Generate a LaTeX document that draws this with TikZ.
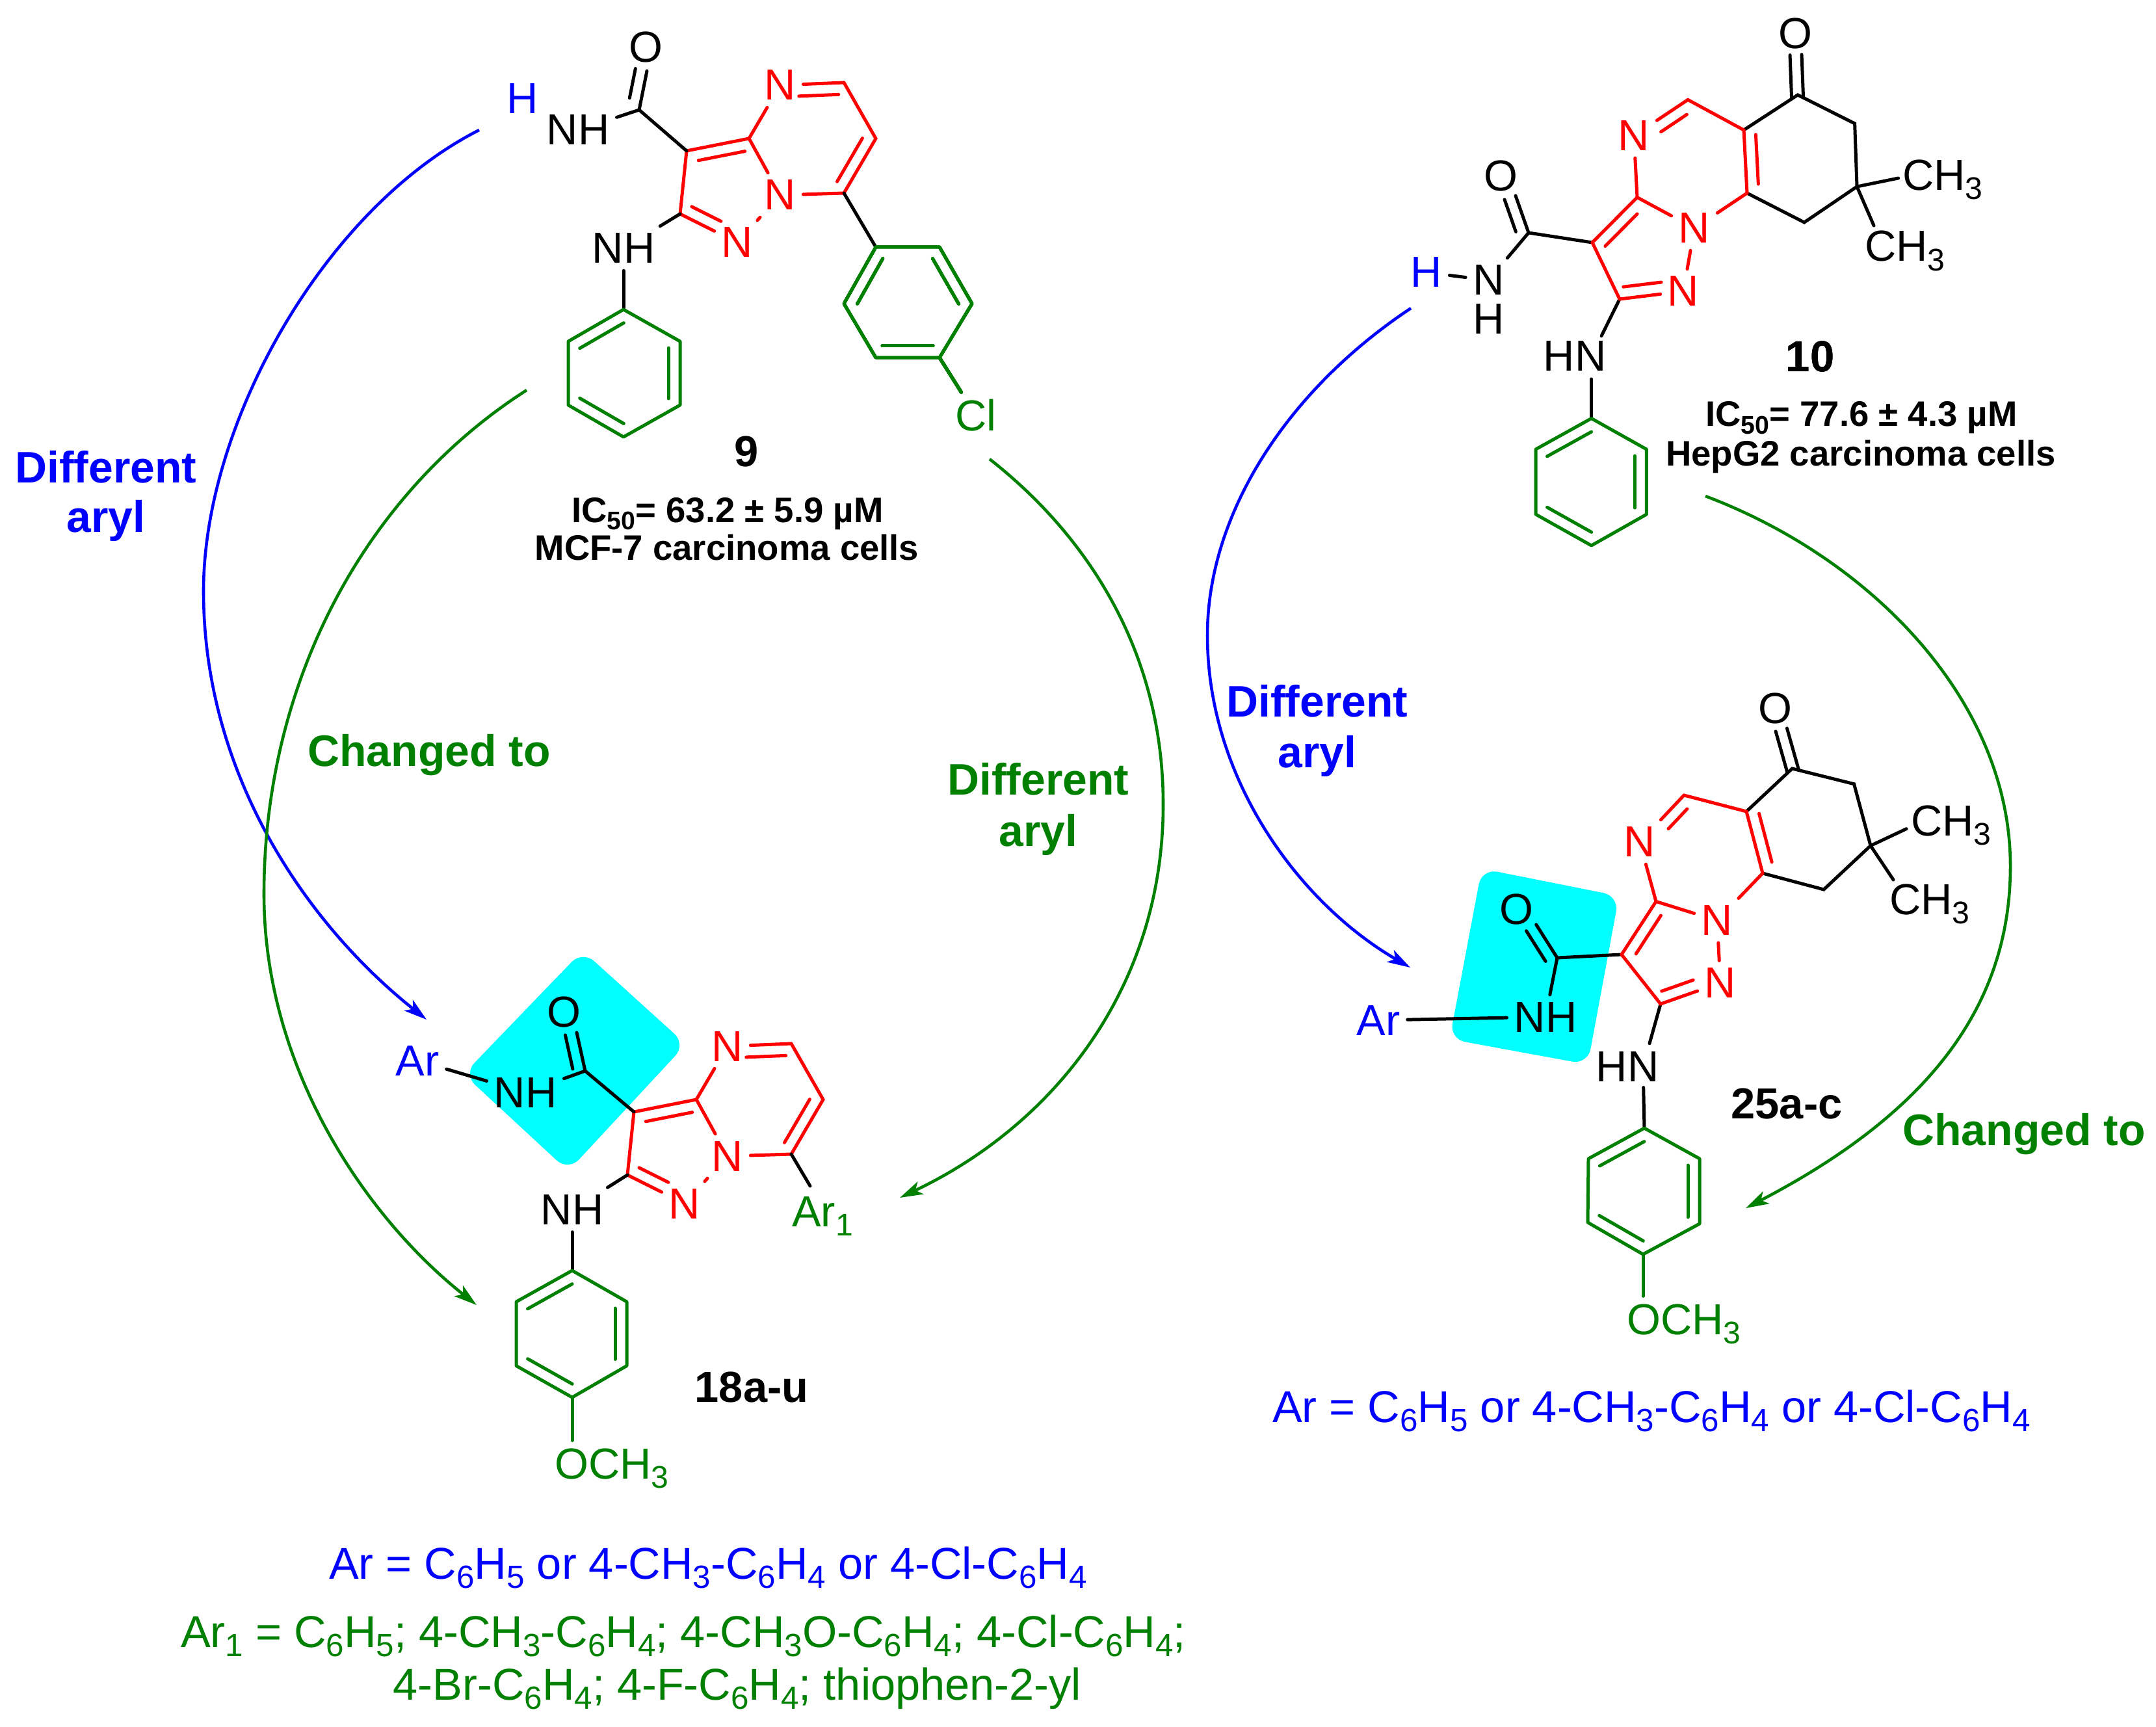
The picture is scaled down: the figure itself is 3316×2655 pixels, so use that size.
\documentclass[tikz,border=0pt]{standalone}
\usepackage{fontspec}
\setmainfont{Liberation Sans}
\usetikzlibrary{calc,arrows.meta}

\definecolor{labgreen}{RGB}{0,128,0}
\definecolor{boxcyan}{RGB}{0,255,255}

\tikzset{
  blackbond/.style={black,line width=1.42pt,line cap=round},
  redbond/.style={red,line width=1.42pt,line cap=round},
  greenbond/.style={labgreen,line width=1.42pt,line cap=round},
  atomk/.style={inner sep=3pt,text=black,font=\fontsize{19}{23}\selectfont},
  atomr/.style={atomk,text=red},
  atomg/.style={atomk,text=labgreen},
  atomb/.style={atomk,text=blue},
  boldk/.style={inner sep=0pt,anchor=base,text=black,font=\fontsize{19}{23}\bfseries\selectfont},
  boldg/.style={boldk,text=labgreen,font=\fontsize{19.3}{23}\bfseries\selectfont},
  boldb/.style={boldg,text=blue},
  assay/.style={boldk,font=\fontsize{15.5}{18}\bfseries\selectfont},
  formb/.style={inner sep=0pt,anchor=base,text=blue,font=\fontsize{19.5}{23}\selectfont},
  formg/.style={formb,text=labgreen},
  bluearc/.style={blue,line width=1.3pt,-{Stealth[length=10pt,width=6pt,inset=2.5pt]}},
  greenarc/.style={labgreen,line width=1.3pt,-{Stealth[length=10pt,width=6pt,inset=2.5pt]}},
  hilite/.style={fill=boxcyan,rounded corners=0.24cm}
}

% small index in formulas
\newcommand{\sbs}[1]{\raisebox{-.21em}{\scalebox{.72}{#1}}}

% second line of a double bond, beside a--b
\newcommand{\innerbond}[6][blackbond]{%
  \pgfmathsetmacro{\backangle}{-1*(#4)}
  \draw[#1,shorten <=#5,shorten >=#6]
    ($(#2.center)!0.18cm!#4:(#3.center)$) -- ($(#3.center)!0.18cm!\backangle:(#2.center)$);
}
\newcommand{\dblbond}[6][blackbond]{%
  \draw[#1] (#2) -- (#3);
  \innerbond[#1]{#2}{#3}{#4}{#5}{#6}
}
% ring points 1..6 run clockwise, double bonds at 1-2, 3-4, 5-6
\newcommand{\phring}[1]{%
  \draw[greenbond,line join=round] (#1 1) -- (#1 2) -- (#1 3) -- (#1 4) -- (#1 5) -- (#1 6) -- cycle;
  \foreach \a/\b in {1/2,3/4,5/6}
    \innerbond[greenbond]{#1 \a}{#1 \b}{-90}{0.1cm}{0.1cm}
}
% red core of 9 and 18a-u
\newcommand{\pyrimcore}[1]{%
  \coordinate (#1c3) at (1056,232);
  \coordinate (#1c3a) at (1152,213);
  \node[atomr] (#1n4) at (1200,131) {N};
  \coordinate (#1c5) at (1298,127);
  \coordinate (#1c6) at (1347,213);
  \coordinate (#1c7) at (1298,297);
  \node[atomr] (#1n8) at (1200,300) {N};
  \node[atomr] (#1n1) at (1134,373) {N};
  \coordinate (#1c2) at (1046,329);
  \dblbond[redbond]{#1c3}{#1c3a}{-90}{0.15cm}{0.1cm}
  \draw[redbond] (#1c3a) -- (#1n4);
  \dblbond[redbond]{#1n4}{#1c5}{-90}{0.28cm}{0.09cm}
  \draw[redbond] (#1c5) -- (#1c6);
  \dblbond[redbond]{#1c6}{#1c7}{-90}{0.1cm}{0.1cm}
  \draw[redbond] (#1c7) -- (#1n8);
  \draw[redbond] (#1c3a) -- (#1n8);
  \draw[redbond] (#1n8) -- (#1n1);
  \dblbond[redbond]{#1c2}{#1n1}{90}{0.11cm}{0.37cm}
  \draw[redbond] (#1c3) -- (#1c2);
}

\begin{document}
\begin{tikzpicture}[x=0.01cm,y=-0.01cm]
\useasboundingbox (0,0) rectangle (3316,2655);

% highlight boxes
\fill[hilite] (896,1462) -- (1055,1606) -- (874,1801) -- (713,1652) -- cycle;
\fill[hilite] (2279,1336) -- (2490,1378) -- (2442,1637) -- (2229.5,1598) -- cycle;

% compound 9
\pyrimcore{a}
\node[atomk] (ao) at (993,73) {O};
\coordinate (aoend) at (995,109);
\coordinate (acco) at (983,169);
\node[atomk] (anh) at (889,200) {NH};
\node[atomb] (ah) at (804,152) {H};
\node[atomk] (anh2) at (959,382) {NH};
\foreach \n/\x/\y in {1/874/525,2/959/476,3/1046/525,4/1046/623,5/959/672,6/874/623}
  \coordinate (ar \n) at (\x,\y);
\foreach \n/\x/\y in {1/1445/380,2/1495/467,3/1445/550,4/1347/550,5/1298/467,6/1347/380}
  \coordinate (as \n) at (\x,\y);
\node[atomg] (acl) at (1501,639) {Cl};
\dblbond{acco}{aoend}{90}{0.15cm}{0cm}
\draw[blackbond] (ac3) -- (acco);
\draw[blackbond] (acco) -- (anh);
\draw[blackbond] (ac2) -- (anh2);
\draw[blackbond] (anh2) -- (ar 2);
\draw[blackbond] (ac7) -- (as 6);
\phring{ar}
\phring{as}
\draw[greenbond] (as 3) -- (acl);
\node[boldk] (alab) at (1148,717) {9};
\node[assay] (aic) at (1119,803) {IC\sbs{50}= 63.2 ± 5.9 µM};
\node[assay] (acell) at (1118,861) {MCF-7 carcinoma cells};

% compound 10
\node[atomk] (bo) at (2761,52) {O};
\coordinate (boend) at (2771,84);
\coordinate (bcoa) at (2773.5,149);
\coordinate (bcob) at (2765,146);
\coordinate (bch) at (2596,153.4);
\node[atomr] (bn4) at (2513,208.8) {N};
\coordinate (bc3a) at (2518,303.5);
\coordinate (bc3) at (2449,373);
\coordinate (bcco) at (2351,358);
\node[atomk] (boa) at (2308,271) {O};
\coordinate (boaend) at (2331,301);
\node[atomk] (bnh) at (2289.4,431) {N};
\node[atomk,inner sep=0pt] (bhh) at (2289.4,490.5) {H};
\node[atomb] (bh) at (2194,419) {H};
\node[atomr] (bn8) at (2606,351) {N};
\node[atomr] (bn1) at (2589,448) {N};
\coordinate (bc2) at (2491,460);
\node[atomk] (bhn) at (2422,548) {HN};
\coordinate (bhnn) at (2447.6,548);
\coordinate (bc6) at (2682,200);
\coordinate (bc7) at (2687,297);
\coordinate (bc8) at (2775,342);
\coordinate (bc9) at (2856,287);
\coordinate (bc10) at (2852.6,190);
\coordinate (bmea) at (2919.6,274);
\coordinate (bmeb) at (2882,347);
\node[atomk,anchor=base west] (bch3a) at (2915,292.5) {CH\sbs{3}};
\node[atomk,anchor=base west] (bch3b) at (2857,402) {CH\sbs{3}};
\foreach \n/\x/\y in {1/2362/691,2/2447.6/643.5,3/2532.4/691,4/2532.4/791,5/2447.6/839,6/2362/791}
  \coordinate (br \n) at (\x,\y);
\draw[blackbond] (bc6) -- (bcob) -- (bc10) -- (bc9) -- (bc8) -- (bc7);
\dblbond{bcoa}{boend}{90}{0cm}{0cm}
\draw[blackbond] (bc9) -- (bmea);
\draw[blackbond] (bc9) -- (bmeb);
\dblbond{bcco}{boaend}{90}{0.08cm}{0cm}
\draw[blackbond] (bc3) -- (bcco);
\draw[blackbond] (bcco) -- (bnh);
\draw[blackbond] (bh) -- (bnh);
\draw[blackbond,shorten >=0.35cm] (bc2) -- (bhnn);
\draw[blackbond,shorten <=0.35cm] (bhnn) -- (br 2);
\dblbond[redbond]{bn4}{bch}{-90}{0.38cm}{0.14cm}
\draw[redbond] (bch) -- (bc6);
\dblbond[redbond]{bc6}{bc7}{90}{0.08cm}{0.13cm}
\draw[redbond] (bn4) -- (bc3a);
\dblbond[redbond]{bc3a}{bc3}{90}{0.18cm}{0.1cm}
\draw[redbond] (bc3a) -- (bn8);
\draw[redbond] (bc7) -- (bn8);
\draw[redbond] (bn8) -- (bn1);
\draw[redbond] (bc3) -- (bc2);
\dblbond[redbond]{bc2}{bn1}{90}{0.08cm}{0.32cm}
\phring{br}
\node[boldk] (blab) at (2784,572) {10};
\node[assay] (bic) at (2863,656) {IC\sbs{50}= 77.6 ± 4.3 µM};
\node[assay] (bcell) at (2862,716) {HepG2 carcinoma cells};

% compound 18a-u
\begin{scope}[shift={(-81,1478)}]
\pyrimcore{c}
\end{scope}
\node[atomk] (co) at (867,1556) {O};
\coordinate (coend) at (887,1588);
\coordinate (ccco) at (900,1647);
\node[atomk] (cnh) at (808,1680) {NH};
\node[atomb] (car) at (642,1631) {Ar};
\node[atomk] (cnh2) at (880,1860.5) {NH};
\coordinate (carend) at (1246,1824);
\node[atomg,anchor=base west] (car1) at (1207,1886) {Ar\sbs{1}};
\coordinate (coend2) at (880,2215);
\node[atomg,anchor=base west] (coch) at (842,2274) {OCH\sbs{3}};
\foreach \n/\x/\y in {1/794/2002,2/880/1954,3/964/2002,4/964/2100.5,5/880/2149,6/794/2100.5}
  \coordinate (cr \n) at (\x,\y);
\dblbond{ccco}{coend}{90}{0.07cm}{0cm}
\draw[blackbond] (cc3) -- (ccco);
\draw[blackbond] (ccco) -- (cnh);
\draw[blackbond] (car) -- (cnh);
\draw[blackbond] (cc2) -- (cnh2);
\draw[blackbond] (cnh2) -- (cr 2);
\draw[blackbond] (cc7) -- (carend);
\phring{cr}
\draw[greenbond] (cr 5) -- (coend2);
\node[boldk] (clab) at (1156,2156) {18a-u};
\node[formb] (cfa) at (1089,2428) {Ar = C\sbs{6}H\sbs{5} or 4-CH\sbs{3}-C\sbs{6}H\sbs{4} or 4-Cl-C\sbs{6}H\sbs{4}};
\node[formg] (cfb) at (1051,2533) {Ar\sbs{1} = C\sbs{6}H\sbs{5}; 4-CH\sbs{3}-C\sbs{6}H\sbs{4}; 4-CH\sbs{3}O-C\sbs{6}H\sbs{4}; 4-Cl-C\sbs{6}H\sbs{4};};
\node[formg] (cfc) at (1134,2614) {4-Br-C\sbs{6}H\sbs{4}; 4-F-C\sbs{6}H\sbs{4}; thiophen-2-yl};

% compound 25a-c
\node[atomk] (do) at (2730,1089.6) {O};
\coordinate (doend) at (2748.4,1120);
\coordinate (dcoa) at (2766.5,1184);
\coordinate (dcob) at (2756.4,1182);
\coordinate (dc6) at (2686,1248);
\coordinate (dch) at (2590,1223);
\node[atomr] (dn4) at (2522,1295) {N};
\coordinate (dc3a) at (2547,1386.4);
\coordinate (dc3) at (2494,1468);
\coordinate (dcco) at (2395,1473);
\node[atomk] (doa) at (2332.6,1398.5) {O};
\coordinate (doaend) at (2362.7,1422);
\node[atomk] (dnh) at (2377,1564) {NH};
\node[atomb] (dar) at (2120,1569) {Ar};
\node[atomr] (dn8) at (2641,1415.7) {N};
\node[atomr] (dn1) at (2646,1511.6) {N};
\coordinate (dc2) at (2554,1544);
\node[atomk] (dhn) at (2503,1640.4) {HN};
\coordinate (dhnn) at (2527,1640.4);
\coordinate (dc7) at (2711,1343);
\coordinate (dc8) at (2805,1368);
\coordinate (dc9) at (2877,1300.6);
\coordinate (dc10) at (2851.5,1205.7);
\coordinate (dmea) at (2932,1274.7);
\coordinate (dmeb) at (2912,1353);
\node[atomk,anchor=base west] (dch3a) at (2928,1285.5) {CH\sbs{3}};
\node[atomk,anchor=base west] (dch3b) at (2895,1406.5) {CH\sbs{3}};
\coordinate (doend2) at (2527,1993);
\node[atomg,anchor=base west] (doch) at (2491,2052) {OCH\sbs{3}};
\foreach \n/\x/\y in {1/2443/1782,2/2529/1735,3/2614/1782,4/2614/1882,5/2527/1929,6/2442/1880}
  \coordinate (dr \n) at (\x,\y);
\draw[blackbond] (dc6) -- (dcob) -- (dc10) -- (dc9) -- (dc8) -- (dc7);
\dblbond{dcoa}{doend}{90}{0cm}{0cm}
\draw[blackbond] (dc9) -- (dmea);
\draw[blackbond] (dc9) -- (dmeb);
\dblbond{dcco}{doaend}{90}{0.05cm}{0cm}
\draw[blackbond] (dc3) -- (dcco);
\draw[blackbond] (dcco) -- (dnh);
\draw[blackbond] (dar) -- (dnh);
\draw[blackbond,shorten >=0.37cm] (dc2) -- (dhnn);
\draw[blackbond,shorten <=0.32cm] (dhnn) -- (dr 2);
\dblbond[redbond]{dn4}{dch}{-90}{0.45cm}{0.12cm}
\draw[redbond] (dch) -- (dc6);
\dblbond[redbond]{dc6}{dc7}{90}{0.08cm}{0.13cm}
\draw[redbond] (dn4) -- (dc3a);
\dblbond[redbond]{dc3a}{dc3}{90}{0.14cm}{0.13cm}
\draw[redbond] (dc3a) -- (dn8);
\draw[redbond] (dc7) -- (dn8);
\draw[redbond] (dn8) -- (dn1);
\draw[redbond] (dc3) -- (dc2);
\dblbond[redbond]{dc2}{dn1}{90}{0.08cm}{0.38cm}
\phring{dr}
\draw[greenbond] (dr 5) -- (doend2);
\node[boldk] (dlab) at (2748,1720) {25a-c};
\node[formb] (dfa) at (2540,2187) {Ar = C\sbs{6}H\sbs{5} or 4-CH\sbs{3}-C\sbs{6}H\sbs{4} or 4-Cl-C\sbs{6}H\sbs{4}};

% arcs between the structures
\coordinate (ablue) at (737,200);
\coordinate (abluet) at (656,1568);
\coordinate (agreen) at (810,600);
\coordinate (agreent) at (733,2007);
\coordinate (agrb) at (1522,706);
\coordinate (agrbt) at (1384,1842);
\coordinate (bblue) at (2170,474);
\coordinate (bbluet) at (2169,1488);
\coordinate (bgreen) at (2623,763);
\coordinate (bgreent) at (2685,1858);
\draw[bluearc] (ablue) .. controls (500,320) and (313,650) .. (313,909) .. controls (313,1190) and (470,1420) .. (abluet);
\draw[greenarc] (agreen) .. controls (560,760) and (406,1050) .. (406,1375) .. controls (406,1640) and (560,1870) .. (agreent);
\draw[greenarc] (agrb) .. controls (1680,830) and (1789,1010) .. (1789,1237) .. controls (1789,1520) and (1620,1730) .. (agrbt);
\draw[bluearc] (bblue) .. controls (1980,600) and (1857,790) .. (1857,977) .. controls (1857,1200) and (2000,1390) .. (bbluet);
\draw[greenarc] (bgreen) .. controls (2880,860) and (3092,1080) .. (3092,1332) .. controls (3092,1560) and (2950,1720) .. (bgreent);

% labels on the arcs
\node[boldb] (aryla) at (163,742) {Different};
\node[boldb] (arylb) at (163,818) {aryl};
\node[boldg] (chga) at (660,1178) {Changed to};
\node[boldg] (arylc) at (1597,1222) {Different};
\node[boldg] (aryld) at (1597,1301) {aryl};
\node[boldb] (aryle) at (2026,1102) {Different};
\node[boldb] (arylf) at (2026,1180) {aryl};
\node[boldg] (chgb) at (3113,1761) {Changed to};
\end{tikzpicture}
\end{document}
